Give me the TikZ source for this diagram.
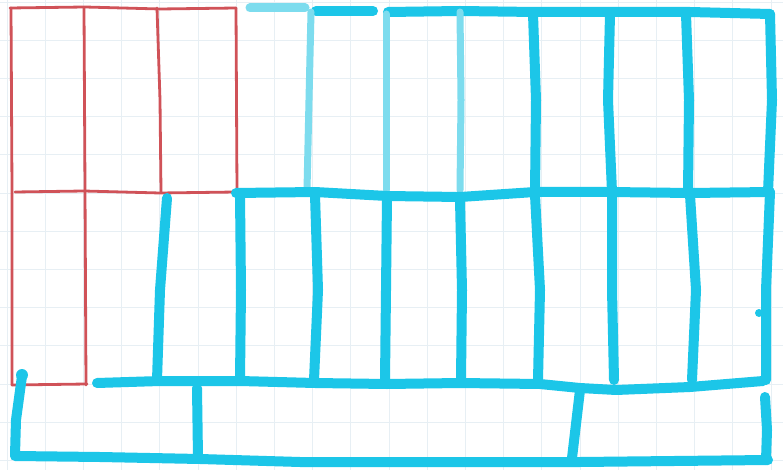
\documentclass[tikz,border=0pt]{standalone}
\definecolor{penred}{RGB}{208,82,88}
\definecolor{pencyan}{RGB}{28,198,232}
\definecolor{penlight}{RGB}{125,220,238}
\definecolor{gridc}{RGB}{231,239,244}
\begin{document}
\begin{tikzpicture}[x=1pt,y=-1pt,line cap=round,line join=round,
  redline/.style={draw=penred,line width=2.8pt},
  cyanline/.style={draw=pencyan,line width=10pt},
  lightline/.style={draw=penlight,line width=7pt},
  gridline/.style={draw=gridc,line width=0.9pt}]
\fill[white] (0,0) rectangle (783,470);
\useasboundingbox (0,0) rectangle (783,470);
% grid paper
\foreach \i in {0,...,20} \draw[gridline] ({7+38.2*\i},0) -- ({7+38.2*\i},470);
\foreach \j in {0,...,12} \draw[gridline] (0,{2+38.2*\j}) -- (783,{2+38.2*\j});
% red rectangles
\draw[redline] (10,8) -- (85,7) -- (160,9) -- (236,8);
\draw[redline] (11,8) -- (12,190) -- (12,385);
\draw[redline] (84,8) -- (85,190) -- (86,385);
\draw[redline] (157,8) -- (160,100) -- (161,192);
\draw[redline] (236,8) -- (237,192);
\draw[redline] (15,192) -- (84,191) -- (160,193) -- (236,192);
\draw[redline] (12,385) -- (87,384);
% cyan: top row
\draw[lightline,line width=9pt] (250,8) -- (305,8);
\draw[cyanline] (316,11) -- (373,11);
\draw[cyanline] (388,12) -- (460,11) -- (535,12) -- (610,12) -- (690,12) -- (770,14);
\draw[lightline] (311,12) -- (309,100) -- (307,190);
\draw[lightline] (386,14) -- (386,190);
\draw[lightline] (460,12) -- (461,100) -- (460,190);
\draw[cyanline] (533,14) -- (536,100) -- (535,192);
\draw[cyanline] (610,14) -- (608,100) -- (612,192);
\draw[cyanline] (686,14) -- (689,100) -- (688,192);
\draw[cyanline] (770,14) -- (772,100) -- (768,192);
% middle horizontal
\draw[cyanline] (236,193) -- (315,192) -- (387,196) -- (460,197) -- (535,192) -- (610,192) -- (690,193) -- (770,192);
% middle row verticals
\draw[cyanline] (167,198) -- (160,290) -- (157,380);
\draw[cyanline] (240,195) -- (241,290) -- (240,380);
\draw[cyanline] (315,195) -- (318,290) -- (314,380);
\draw[cyanline] (387,197) -- (386,290) -- (385,380);
\draw[cyanline] (460,200) -- (462,290) -- (461,380);
\draw[cyanline] (535,195) -- (540,290) -- (538,380);
\draw[cyanline] (612,195) -- (612,290) -- (614,380);
\draw[cyanline] (690,195) -- (696,290) -- (692,380);
\draw[cyanline] (770,192) -- (766,290) -- (766,380);
% bottom horizontal of middle row
\draw[cyanline] (97,383) -- (160,381) -- (240,381) -- (315,383) -- (387,384) -- (460,383) -- (540,384) -- (580,388) -- (616,390) -- (690,387) -- (763,381);
% bottom row
\fill[pencyan] (22,375) circle (6pt);
\draw[cyanline] (22,376) -- (16,420) -- (15,455);
\draw[cyanline] (15,456) -- (100,457) -- (200,459) -- (300,462) -- (500,462) -- (580,462) -- (768,460);
\draw[cyanline] (197,388) -- (198,458);
\draw[cyanline] (580,390) -- (572,458);
\draw[cyanline] (765,397) -- (767,430) -- (766,460);
\fill[pencyan] (759,313) circle (4pt);
\end{tikzpicture}
\end{document}
